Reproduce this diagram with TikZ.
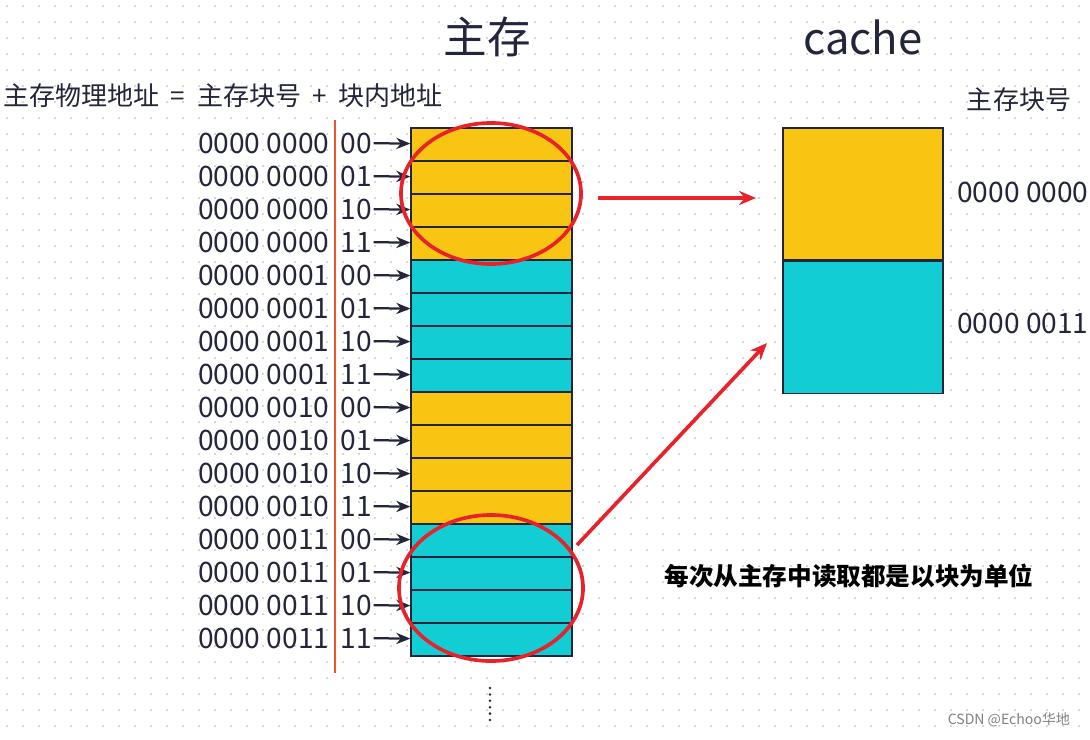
\documentclass[tikz,border=0pt]{standalone}
\usepackage{fontspec}
\setmainfont{Noto Sans CJK SC}
\usetikzlibrary{arrows.meta,shapes.geometric,positioning}
\definecolor{ink}{HTML}{23253A}
\definecolor{blkyel}{HTML}{F8C513}
\definecolor{blkcyan}{HTML}{13CDD4}
\definecolor{ringred}{HTML}{E8222A}
\definecolor{sepred}{HTML}{F0522E}
\definecolor{griddot}{HTML}{D6D6D6}

\begin{document}
\begin{tikzpicture}[x=0.025cm,y=-0.025cm,text=ink,font=\fontsize{18.5}{20}\selectfont]
  \tikzstyle{cell}=[draw=ink,line width=0.9pt,minimum width=4.025cm,minimum height=0.825cm,inner sep=0pt]
  \tikzstyle{cacheblk}=[draw=ink,line width=0.9pt,minimum width=4cm,minimum height=3.3cm,inner sep=0pt]
  \tikzstyle{addr}=[inner sep=1pt,font=\fontsize{20}{22}\selectfont]
  \tikzstyle{addrarrow}=[draw=ink,line width=1.6pt,-{Stealth[length=10pt,width=8pt]}]
  \tikzstyle{ring}=[draw=ringred,line width=2.6pt,ellipse,inner sep=0pt]
  \tikzstyle{redarrow}=[draw=ringred,line width=2.6pt,-{Stealth[length=12pt,width=10pt]}]

  \useasboundingbox (0,0) rectangle (1090,739);
  \foreach \x in {7,23,...,1090}
    \foreach \y in {6,22,...,739}
      \fill[griddot] (\x-1,\y-1) rectangle ++(2,2);

  \node[font=\fontsize{31}{34}\selectfont] (title) at (487,37) {主存};
  \node[font=\fontsize{31}{34}\selectfont] (cachetitle) at (863,37) {cache};
  \node[anchor=west,inner sep=0pt] (formula) at (3,96) {主存物理地址 ~=~ 主存块号 ~+~ 块内地址};

  \foreach \c [count=\i from 0] in {blkyel,blkyel,blkyel,blkyel,blkcyan,blkcyan,blkcyan,blkcyan,
                                    blkyel,blkyel,blkyel,blkyel,blkcyan,blkcyan,blkcyan,blkcyan}
    \node[cell,fill=\c] (m\i) at (491.5,144.5+33*\i) {};

  \foreach \blk [count=\k from 0] in {0000,0001,0010,0011}
    \foreach \off [count=\o from 0] in {00,01,10,11} {
      \pgfmathtruncatemacro{\i}{4*\k+\o}
      \node[addr,anchor=east] (hi\i) at (331,143+33*\i) {0000 \blk};
      \node[addr,anchor=west] (lo\i) at (339,143+33*\i) {\off};
      \draw[addrarrow] (lo\i) -- (m\i);
    }

  \coordinate (sepTop) at (335,120);
  \coordinate (sepBot) at (335,673);
  \draw[sepred,line width=1.6pt] (sepTop) -- (sepBot);

  \node[ring,minimum width=4.5cm,minimum height=3.525cm] (ringTop) at (491,193.5) {};
  \node[ring,minimum width=4.6cm,minimum height=3.65cm] (ringBot) at (491,588) {};

  \node[cacheblk,fill=blkyel] (c0) at (863,194) {};
  \node[cacheblk,fill=blkcyan,below=0pt of c0] (c1) {};
  \node (tagHead) at (1019,100) {主存块号};
  \node[addr,anchor=west,inner sep=0pt] (tag0) at (957,192) {0000 0000};
  \node[addr,anchor=west,inner sep=0pt] (tag1) at (957,323) {0000 0011};

  \coordinate (fromTop) at (598,198);
  \coordinate (toTop) at (756,198);
  \coordinate (fromBot) at (577,545);
  \coordinate (toBot) at (767,343);
  \draw[redarrow] (fromTop) -- (toTop);
  \draw[redarrow] (fromBot) -- (toBot);

  \node[font=\fontsize{17.5}{20}\selectfont\bfseries,text=black] (note) at (849,576) {每次从主存中读取都是以块为单位};

  \foreach \d in {0,...,5}
    \fill[ink] (490,688+6.4*\d) circle (1.4);

  \node[anchor=east,text=gray,font=\fontsize{10}{12}\selectfont] (mark) at (1075,720) {CSDN @Echoo华地};
\end{tikzpicture}
\end{document}
